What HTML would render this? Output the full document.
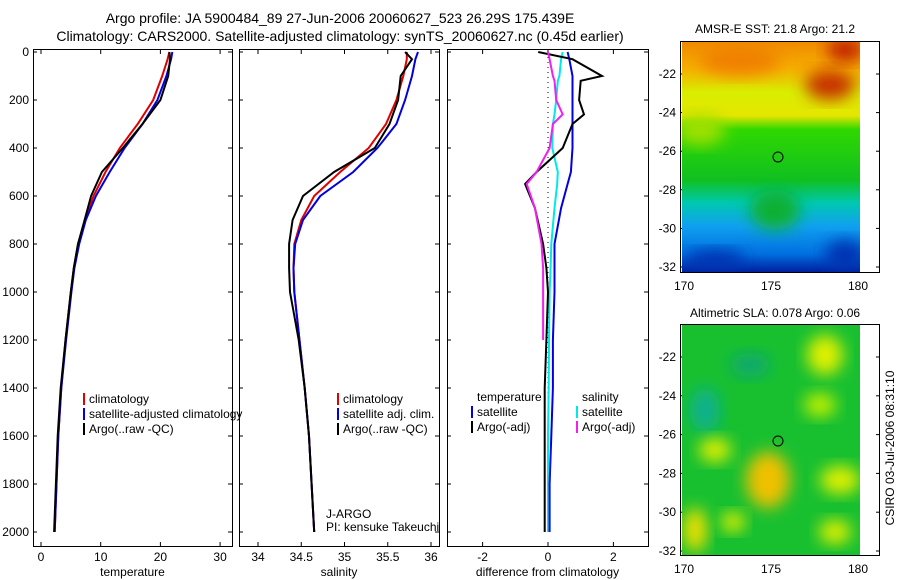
<!DOCTYPE html>
<html><head><meta charset="utf-8"><style>
body{margin:0;background:#fff;}
svg{display:block;font-family:"Liberation Sans",sans-serif;}
</style></head><body>
<svg id="fig" width="900" height="580" viewBox="0 0 900 580">
<defs>
<filter id="bl" x="-30%" y="-30%" width="160%" height="160%"><feGaussianBlur stdDeviation="8"/></filter>
<linearGradient id="sst" x1="0" y1="0" x2="0" y2="1">
<stop offset="0" stop-color="#f08a00"/><stop offset="0.12" stop-color="#f5b000"/><stop offset="0.22" stop-color="#d8ee00"/><stop offset="0.32" stop-color="#e6e600"/><stop offset="0.38" stop-color="#30d800"/><stop offset="0.6" stop-color="#10c020"/><stop offset="0.7" stop-color="#00c8b0"/><stop offset="0.8" stop-color="#10a0f0"/><stop offset="0.92" stop-color="#0070e0"/><stop offset="1" stop-color="#0020a0"/>
</linearGradient>
<clipPath id="c1"><rect x="682" y="42" width="178" height="230"/></clipPath>
<clipPath id="c2"><rect x="682" y="325" width="178" height="230"/></clipPath>
</defs>
<text x="340" y="23" font-size="14" text-anchor="middle">Argo profile: JA 5900484_89 27-Jun-2006 20060627_523 26.29S 175.439E</text>
<text x="340" y="41" font-size="14" text-anchor="middle">Climatology: CARS2000. Satellite-adjusted climatology: synTS_20060627.nc (0.45d earlier)</text>
<g id="panels"></g>
<g>
<text x="775" y="33" font-size="12" text-anchor="middle">AMSR-E SST: 21.8 Argo: 21.2</text>
<g clip-path="url(#c1)">
<rect x="682" y="42" width="178" height="230" fill="url(#sst)"/>
<ellipse cx="830" cy="85" rx="25" ry="15" fill="#c83000" filter="url(#bl)"/>
<ellipse cx="740" cy="60" rx="40" ry="15" fill="#f08000" filter="url(#bl)"/>
<ellipse cx="845" cy="50" rx="18" ry="12" fill="#c02000" filter="url(#bl)"/>
<ellipse cx="700" cy="130" rx="25" ry="15" fill="#a0e000" filter="url(#bl)"/>
<ellipse cx="775" cy="210" rx="25" ry="20" fill="#10b030" filter="url(#bl)"/>
<ellipse cx="715" cy="260" rx="30" ry="10" fill="#0030b0" filter="url(#bl)"/>
<ellipse cx="845" cy="255" rx="20" ry="15" fill="#0030b0" filter="url(#bl)"/>
</g>
<rect x="680.5" y="41.5" width="199" height="231" fill="none" stroke="#000"/>
<circle cx="778" cy="157" r="5" fill="none" stroke="#000"/>
</g>
<g>
<text x="775" y="317" font-size="12" text-anchor="middle">Altimetric SLA: 0.078 Argo: 0.06</text>
<g clip-path="url(#c2)">
<rect x="682" y="325" width="178" height="230" fill="#18c030"/>
<ellipse cx="750" cy="365" rx="20" ry="12" fill="#10a870" filter="url(#bl)"/>
<ellipse cx="705" cy="410" rx="15" ry="22" fill="#10b090" filter="url(#bl)"/>
<ellipse cx="825" cy="355" rx="18" ry="20" fill="#e0f000" filter="url(#bl)"/>
<ellipse cx="820" cy="405" rx="16" ry="12" fill="#c0f000" filter="url(#bl)"/>
<ellipse cx="768" cy="480" rx="22" ry="28" fill="#f0c000" filter="url(#bl)"/>
<ellipse cx="715" cy="450" rx="16" ry="12" fill="#e0f000" filter="url(#bl)"/>
<ellipse cx="695" cy="530" rx="12" ry="22" fill="#f0e000" filter="url(#bl)"/>
<ellipse cx="840" cy="480" rx="20" ry="14" fill="#e0f000" filter="url(#bl)"/>
<ellipse cx="835" cy="532" rx="16" ry="12" fill="#e0f000" filter="url(#bl)"/>
<ellipse cx="733" cy="522" rx="12" ry="10" fill="#e0f000" filter="url(#bl)"/>
</g>
<rect x="680.5" y="324.5" width="199" height="231" fill="none" stroke="#000"/>
<circle cx="778" cy="441" r="5" fill="none" stroke="#000"/>
</g>
<text transform="translate(894,448) rotate(-90)" font-size="12" text-anchor="middle">CSIRO 03-Jul-2006 08:31:10</text>
</svg>
<script>
var depths=[0,30,100,200,300,400,500,600,700,800,900,1000,1200,1400,1600,1800,2000];
var tempClim=[21.5,21.2,20.3,18.8,16.2,13.2,10.8,8.8,7.4,6.2,5.5,5.0,4.1,3.4,2.9,2.6,2.3];
var tempSat=[22.0,21.8,21.0,19.5,17.0,14.0,11.5,9.2,7.5,6.4,5.6,5.1,4.2,3.4,2.9,2.6,2.3];
var tempArgo=[21.5,21.6,21.3,20.0,17.0,13.7,10.2,8.4,7.3,6.2,5.5,5.0,4.1,3.3,2.8,2.5,2.2];
var salClim=[35.72,35.72,35.68,35.60,35.48,35.28,34.95,34.65,34.5,34.42,34.41,34.42,34.48,34.54,34.59,34.62,34.65];
var salSat=[35.85,35.82,35.78,35.70,35.60,35.38,35.10,34.72,34.52,34.43,34.41,34.42,34.48,34.54,34.59,34.62,34.65];
var salArgo=[35.7,35.78,35.65,35.62,35.52,35.35,34.88,34.52,34.40,34.36,34.36,34.37,34.47,34.54,34.59,34.62,34.65];
var dDepths=[0,30,100,120,200,260,300,400,500,550,650,800,900,1000,1200,1400,1600,1800,2000];
var dTempSat=[0.6,0.65,0.75,0.75,0.75,0.75,0.75,0.75,0.7,0.6,0.4,0.2,0.2,0.2,0.15,0.15,0.1,0.05,0.05];
var dTempArgo=[-0.3,0.75,1.65,1.0,0.95,1.1,0.75,0.45,-0.35,-0.7,-0.4,-0.15,-0.05,0,-0.05,-0.1,-0.1,-0.1,-0.1];
var dSalSat=[0.45,0.4,0.35,0.3,0.25,0.2,0.15,0.13,0.3,0.28,0.2,0.1,0.08,0.05,0.03,0.02,0.0,0.0,0.0];
var dSalArgo=[0,0.05,0.15,0.2,0.25,0.45,0.15,0.05,-0.35,-0.65,-0.4,-0.2,-0.15,-0.15,-0.15];
var depthTicks=[0,200,400,600,800,1000,1200,1400,1600,1800,2000];
var tempTicks=[0,10,20,30],salTicks=[34,34.5,35,35.5,36],diffTicks=[-2,0,2];
var latTicks=[-22,-24,-26,-28,-30,-32],lonTicks=[170,175,180];
var NS='http://www.w3.org/2000/svg';
var G=document.getElementById('panels');
function yD(d){return 52+d*0.24;}
function mk(t,a,p){var e=document.createElementNS(NS,t);for(var k in a)e.setAttribute(k,a[k]);(p||G).appendChild(e);return e;}
function panel(name,x0,x1,v0,px0,scale,xt,label,ylabels){
  var g=mk('g',{});
  
  
  mk('rect',{x:x0+.5,y:49.5,width:x1-x0,height:497,fill:'none',stroke:'#000'},g);
  var sx=function(v){return px0+(v-v0)*scale;};
  xt.forEach(function(v){var x=sx(v);mk('line',{x1:x,x2:x,y1:49,y2:54,stroke:'#000'},g);mk('line',{x1:x,x2:x,y1:542,y2:547,stroke:'#000'},g);var t=mk('text',{x:x,y:561,'font-size':12,'text-anchor':'middle'},g);t.textContent=v;});
  depthTicks.forEach(function(d){var y=yD(d);mk('line',{x1:x0,x2:x0+4,y1:y,y2:y,stroke:'#000'},g);mk('line',{x1:x1-4,x2:x1,y1:y,y2:y,stroke:'#000'},g);if(ylabels){var t=mk('text',{x:x0-4,y:y+4,'font-size':12,'text-anchor':'end'},g);t.textContent=d;}});
  var t=mk('text',{x:(x0+x1)/2,y:576,'font-size':12,'text-anchor':'middle'},g);t.textContent=label;
  return {g:g,sx:sx};
}
function line(p,xs,ds,col,name,w){var pts=xs.map(function(v,i){return p.sx(v).toFixed(1)+','+yD(ds[i]).toFixed(1);}).join(' ');var l=mk('polyline',{points:pts,fill:'none',stroke:col,'stroke-width':w||2},p.g);

}
function legend(p,x,y,items){items.forEach(function(it,i){if(it[0])mk('line',{x1:x,x2:x,y1:y+i*15-10,y2:y+i*15+2,stroke:it[0],'stroke-width':2},p.g);var t=mk('text',{x:x+5,y:y+i*15,'font-size':12},p.g);t.textContent=it[1];});}
var p1=panel('temperature-panel',33,232,0,41,5.97,tempTicks,'temperature',true);
line(p1,tempClim,depths,'#e00000','temp-climatology-line');
line(p1,tempSat,depths,'#0000e0','temp-satellite-line');
line(p1,tempArgo,depths,'#000','temp-argo-line');
legend(p1,84,403,[['#e00000','climatology'],['#0000e0','satellite-adjusted climatology'],['#000','Argo(..raw -QC)']]);
var p2=panel('salinity-panel',239,439,34,258,86.5,salTicks,'salinity',false);
line(p2,salClim,depths,'#e00000','sal-climatology-line');
line(p2,salSat,depths,'#0000e0','sal-satellite-line');
line(p2,salArgo,depths,'#000','sal-argo-line');
legend(p2,338,403,[['#e00000','climatology'],['#0000e0','satellite adj. clim.'],['#000','Argo(..raw -QC)']]);
var t1=mk('text',{x:326,y:518,'font-size':12},p2.g);t1.textContent='J-ARGO';
var t2=mk('text',{x:326,y:531,'font-size':12},p2.g);t2.textContent='PI: kensuke Takeuchi';
var p3=panel('difference-panel',447,648,0,548,32.7,diffTicks,'difference from climatology',false);
mk('line',{x1:p3.sx(0),x2:p3.sx(0),y1:52,y2:531,stroke:'#000','stroke-dasharray':'1,4'},p3.g);
line(p3,dSalSat,dDepths,'#00e8e8','sal-diff-satellite-line');
line(p3,dTempSat,dDepths,'#0000e0','temp-diff-satellite-line');
line(p3,dTempArgo,dDepths,'#000','temp-diff-argo-line');
line(p3,dSalArgo,dDepths.slice(0,dSalArgo.length),'#f020f0','sal-diff-argo-line');
legend(p3,472,401,[[null,'temperature'],['#0000e0','satellite'],['#000','Argo(-adj)']]);
legend(p3,577,401,[[null,'salinity'],['#00e8e8','satellite'],['#f020f0','Argo(-adj)']]);
function mapAxes(name,top,bot,y22,y32){var g=mk('g',{});


latTicks.forEach(function(v){var y=y22+(v+22)/(-10)*(y32-y22);mk('line',{x1:680,x2:684,y1:y,y2:y,stroke:'#000'},g);mk('line',{x1:876,x2:880,y1:y,y2:y,stroke:'#000'},g);var t=mk('text',{x:676,y:y+4,'font-size':12,'text-anchor':'end'},g);t.textContent=v;});
lonTicks.forEach(function(v){var x=684+(v-170)/10*174;mk('line',{x1:x,x2:x,y1:top,y2:top+4,stroke:'#000'},g);mk('line',{x1:x,x2:x,y1:bot-4,y2:bot,stroke:'#000'},g);var t=mk('text',{x:x,y:bot+17,'font-size':12,'text-anchor':'middle'},g);t.textContent=v;});}
mapAxes('sst-map-axes',41,273,74,267);
mapAxes('sla-map-axes',324,556,357,551);
</script>
</body></html>
